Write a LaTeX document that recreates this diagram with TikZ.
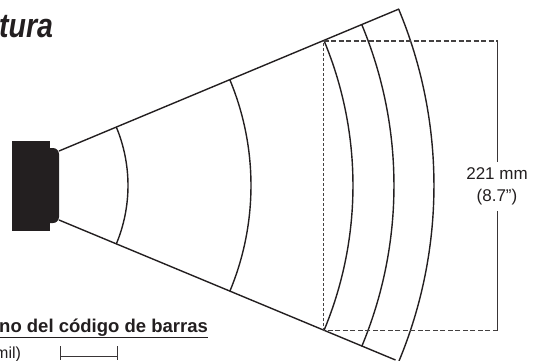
\documentclass[tikz,border=0pt]{standalone}
\usepackage{fontspec}
\setmainfont{Liberation Sans}
\definecolor{inkgray}{HTML}{231F20}
\tikzset{
  beamline/.style={draw=inkgray,line width=1.4pt},
  dimline/.style={draw=inkgray!85,line width=1.1pt,dash pattern=on 5pt off 2.5pt},
  solidline/.style={draw=inkgray!90,line width=1.2pt},
  labeltext/.style={text=inkgray,font=\fontsize{17}{22}\selectfont,align=center,inner sep=0pt}
}
\begin{document}
\begin{tikzpicture}[x=1pt,y=-1pt]
   \useasboundingbox (0,0) rectangle (533,360);

   % reader body
   \fill[inkgray] (12,141) rectangle (50,231);
   \fill[inkgray,rounded corners=6pt] (44,148) -- (59,148) -- (59,223) -- (44,223) -- cycle;

   % beam
   \coordinate (topa) at (59,151);
   \coordinate (topb) at (399,9);
   \coordinate (bota) at (59,220);
   \coordinate (botb) at (395.5,360);
   \draw[beamline] (topa) -- (topb);
   \draw[beamline] (bota) -- (botb);

   % arcs
   \foreach \r in {152,275,377,418,458}{
     \draw[beamline] ({-24+\r*cos(22.65)},{185.5-\r*sin(22.65)})
        arc[start angle=-22.65,end angle=22.65,radius=\r];
   }

   % depth of field box
   \coordinate (boxa) at (323.5,41);
   \coordinate (boxb) at (497.5,41);
   \coordinate (boxc) at (497.5,330.5);
   \coordinate (boxd) at (323.5,330.5);
   \draw[dimline] (boxa) -- (boxb);
   \draw[dimline] (boxc) -- (boxd);
   \draw[dimline,dash pattern=on 3pt off 2pt] (boxd) -- (boxa);

   \node[labeltext] (size) at (497,186.5) {221 mm\\(8.7”)};
   \draw[solidline] (boxb) -- (497.5,162);
   \draw[solidline] (497.5,211) -- (boxc);

   % clipped texts
   \node[anchor=base west,inner sep=0pt,text=inkgray,font=\fontsize{34}{36}\bfseries\itshape\selectfont,xscale=.84] (title) at (-1,37.5) {tura};
   \node[anchor=base west,inner sep=0pt,text=inkgray,font=\fontsize{18.5}{20}\bfseries\selectfont] (barcode) at (-1,332) {\underline{no del código de barras}};
   \node[anchor=base west,inner sep=0pt,text=inkgray,font=\fontsize{16}{18}\selectfont] (milsize) at (-5,358) {mil)};

   \coordinate (tickl) at (60,346);
   \coordinate (tickr) at (117,346);
   \draw[solidline,line width=0.9pt] (tickl) -- +(0,14);
   \draw[solidline,line width=0.9pt] (tickr) -- +(0,14);
   \draw[solidline,line width=0.9pt] (tickl |- 0,356) -- (tickr |- 0,356);
\end{tikzpicture}
\end{document}
